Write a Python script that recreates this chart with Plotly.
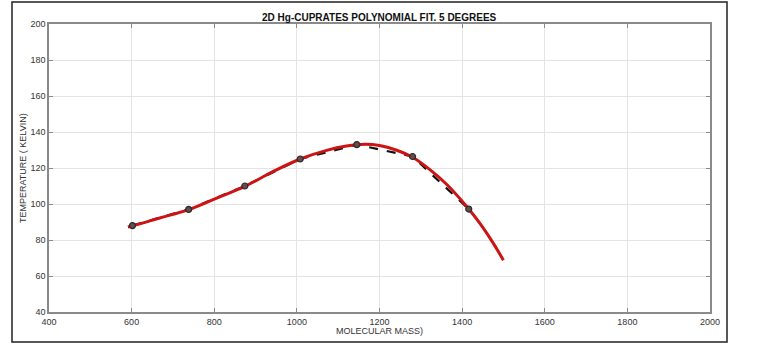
import plotly.graph_objects as go

# Measured data (molecular mass vs Tc)
mass = [602, 738, 874, 1008, 1145, 1280, 1416]
temp = [88, 97, 110, 125, 133, 126.4, 97.2]

# 5th-degree polynomial fit curve
fit_mass = [591, 602, 668, 738, 806, 874, 943, 1008, 1072, 1120, 1165, 1200, 1240, 1280, 1322, 1363, 1416, 1444, 1476, 1500]
fit_temp = [87.2, 87.8, 92.2, 96.9, 103.3, 109.8, 118.1, 125.0, 129.8, 132.2, 133.2, 132.5, 130.0, 126.0, 119.1, 110.8, 97.2, 88.9, 78.0, 68.7]

x_ticks = [400, 600, 800, 1000, 1200, 1400, 1600, 1800, 2000]
y_ticks = [40, 60, 80, 100, 120, 140, 160, 180, 200]

FONT = "Liberation Sans, Arial, sans-serif"

fig = go.Figure()
fig.add_trace(go.Scatter(x=mass, y=temp, mode="lines",
                         line=dict(color="#111111", width=2.2, dash="dash"),
                         showlegend=False))
fig.add_trace(go.Scatter(x=fit_mass, y=fit_temp, mode="lines",
                         line=dict(color="#cc1414", width=3, shape="spline", smoothing=1.0),
                         showlegend=False))
fig.add_trace(go.Scatter(x=mass, y=temp, mode="markers",
                         marker=dict(size=6, color="#6a4a4a", line=dict(color="#2a2a2a", width=1.2)),
                         showlegend=False))

axis_common = dict(showgrid=True, gridcolor="#e4e4e4", gridwidth=1,
                   showline=True, linecolor="#8a8a8a", linewidth=1.5, mirror="ticks",
                   ticks="inside", ticklen=4, tickcolor="#8a8a8a",
                   tickfont=dict(family=FONT, size=9, color="#333333"),
                   zeroline=False)

fig.update_layout(
    width=757, height=352,
    margin=dict(l=49, r=47, t=24, b=40),
    paper_bgcolor="white", plot_bgcolor="white",
    xaxis=dict(range=[400, 2000], tickvals=x_ticks, **axis_common),
    yaxis=dict(range=[40, 200], tickvals=y_ticks, **axis_common),
    annotations=[
        dict(text="<b>2D Hg-CUPRATES POLYNOMIAL FIT. 5 DEGREES</b>", xref="paper", yref="paper",
             x=0.5, y=1.0, yshift=7, xanchor="center", yanchor="middle", showarrow=False,
             font=dict(family=FONT, size=10, color="#111111")),
        dict(text="MOLECULAR MASS)", xref="paper", yref="paper", x=0.5, y=0, yshift=-19,
             xanchor="center", yanchor="middle", showarrow=False,
             font=dict(family=FONT, size=9, color="#333333")),
        dict(text="TEMPERATURE ( KELVIN)", xref="paper", yref="paper", x=0, xshift=-26, y=0.5,
             xanchor="center", yanchor="middle", textangle=-90, showarrow=False,
             font=dict(family=FONT, size=9, color="#333333")),
    ],
    shapes=[dict(type="rect", xref="paper", yref="paper",
                 x0=-37 / 661, x1=1 + 17 / 661, y0=-30 / 288, y1=1 + 22 / 288,
                 line=dict(color="#222222", width=1.5), layer="below")],
)

fig.write_html("out.html")
